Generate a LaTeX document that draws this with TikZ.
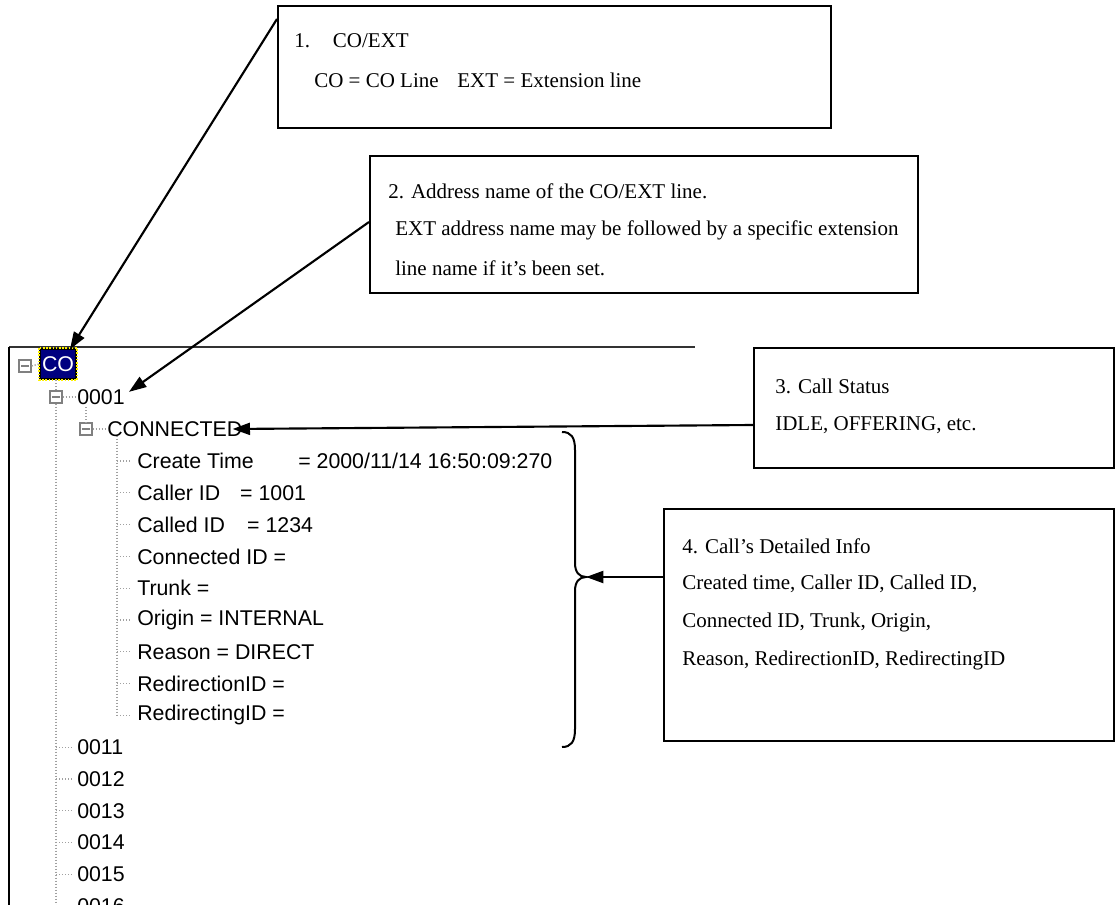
\documentclass[tikz,border=0pt]{standalone}
\usepackage{fontspec}
\setmainfont{Liberation Serif}
\newfontfamily\treefont{Liberation Sans}
\usetikzlibrary{arrows.meta}
\definecolor{navyblue}{HTML}{000080}
\definecolor{treegray}{HTML}{A0A0A0}
\definecolor{expgray}{HTML}{808080}
\begin{document}
\begin{tikzpicture}[x=0.75pt,y=-0.75pt,
  callout/.style={draw=black, line width=1.5pt, inner sep=0, anchor=north west},
  btext/.style={anchor=west, inner sep=0, font=\fontsize{15.75pt}{18pt}\selectfont},
  ttext/.style={anchor=west, inner sep=0, font=\treefont\fontsize{16pt}{18pt}\selectfont},
  arr/.style={line width=1.6pt, -{Triangle[length=13pt,width=9pt]}},
  tline/.style={draw=treegray, line width=1pt, dash pattern=on 1pt off 1.25pt},
  expander/.style={draw=expgray, line width=1pt, minimum size=9pt, inner sep=0, fill=white,
    path picture={\draw[expgray, line width=1pt] ([xshift=1.8pt]path picture bounding box.west) -- ([xshift=-1.8pt]path picture bounding box.east);}},
]
\useasboundingbox (0,0) rectangle (1116,905);
\begin{scope}
\clip (0,0) rectangle (1116,905);

% ---------- callout boxes ----------
\node[callout, minimum width=414.75pt, minimum height=91.5pt] (b1) at (277,5) {};
\node[btext] (b1t1) at (294,41) {\makebox[29pt][l]{1.}CO/EXT};
\node[btext] (b1t2) at (314,80) {CO = CO Line\hspace{14pt}EXT = Extension line};

\node[callout, minimum width=411pt, minimum height=102.75pt] (b2) at (369,155) {};
\node[btext] (b2t1) at (388,191) {2. Address name of the CO/EXT line.};
\node[btext] (b2t2) at (395,230) {EXT address name may be followed by a specific extension};
\node[btext] (b2t3) at (395,268) {line name if it’s been set.};

\node[callout, minimum width=270pt, minimum height=90pt] (b3) at (753,347) {};
\node[btext] (b3t1) at (775,386) {3. Call Status};
\node[btext] (b3t2) at (775,425) {IDLE, OFFERING, etc.};

\node[callout, minimum width=337.5pt, minimum height=174pt] (b4) at (663,508) {};
\node[btext] (b4t1) at (682,546) {4. Call’s Detailed Info};
\node[btext] (b4t2) at (682,584) {Created time, Caller ID, Called ID,};
\node[btext] (b4t3) at (682,622) {Connected ID, Trunk, Origin,};
\node[btext] (b4t4) at (682,660) {Reason, RedirectionID, RedirectingID};

% ---------- tree panel ----------
\coordinate (ptl) at (9,347);
\coordinate (ptr) at (695,347);
\coordinate (pbl) at (9,905);
\draw[black!80, line width=1.5pt] (ptl) -- (ptr);
\draw[black, line width=2pt] (ptl) -- (pbl);

\node[expander] (r) at (25,366) {};
\node[fill=navyblue, draw=black, line width=1.5pt, minimum width=27pt, minimum height=22.5pt, inner sep=0,
  text=white, font=\treefont\fontsize{16pt}{18pt}\selectfont] (co) at (58,364) {CO};
\draw[yellow, line width=1.5pt, dash pattern=on 1.2pt off 1.2pt] (co.north west) rectangle (co.south east);
\draw[tline] (r.east) -- (co.west);

% level 1
\node[expander] (e1) at (56,397) {};
\node[ttext] (n0001) at (77,397) {0001};
\draw[tline] (e1.east) -- (n0001.west);
\draw[tline] (co.south -| e1) -- (e1.north);
\coordinate (l1end) at (56,905);
\draw[tline] (e1.south) -- (l1end);

% CONNECTED
\node[expander] (e2) at (86,429) {};
\node[ttext] (conn) at (107,429) {CONNECTED};
\coordinate (e2top) at (86,407);
\draw[tline] (e2top) -- (e2.north);
\draw[tline] (e2.east) -- (conn.west);

% children
\node[ttext] (c1) at (137,461) {\makebox[120.75pt][l]{Create Time}= 2000/11/14 16:50:09:270};
\node[ttext] (c2) at (137,492.8) {\makebox[77.25pt][l]{Caller ID}= 1001};
\node[ttext] (c3) at (137,524.6) {\makebox[82.5pt][l]{Called ID}= 1234};
\node[ttext] (c4) at (137,556.4) {Connected ID =};
\node[ttext] (c5) at (137,588.2) {Trunk =};
\node[ttext] (c6) at (137,620) {Origin = INTERNAL};
\node[ttext] (c7) at (137,651.8) {Reason = DIRECT};
\node[ttext] (c8) at (137,683.6) {RedirectionID =};
\node[ttext] (c9) at (137,715.4) {RedirectingID =};
\draw[tline] (e2.south -| 117,0) -- (117,715.4);
\foreach \c in {c1,c2,c3,c4,c5,c6,c7,c8,c9}{
  \draw[tline] (\c.west -| 117,0) -- ([xshift=-4pt]\c.west);
}

% remaining level-1 items
\foreach \n/\y in {0011/747.2,0012/779,0013/810.8,0014/842.6,0015/874.4,0016/906.2}{
  \node[ttext] (n\n) at (77,\y) {\n};
  \draw[tline] (56,\y) -- ([xshift=-3pt]n\n.west);
}

% ---------- brace ----------
\coordinate (bt) at (586,577);
\draw[line width=1.5pt] (562,432) .. controls (571,432) and (575,437) .. (575,450)
  -- (575,563) .. controls (575,572) and (579,577) .. (bt)
  .. controls (579,577) and (575,582) .. (575,591)
  -- (575,729) .. controls (575,742) and (571,747) .. (562,747);

% ---------- arrows ----------
\coordinate (a1s) at (277,19);
\coordinate (a2s) at (369,222);
\draw[arr] (a1s) -- ([xshift=9pt,yshift=-1pt]co.north);
\draw[arr] (a2s) -- ([xshift=3pt,yshift=-2pt]n0001.north east);
\draw[arr] (b3.west |- b3t2) -- ([xshift=-7.5pt]conn.east);
\draw[arr] (b4.west |- bt) -- (bt);
\end{scope}
\end{tikzpicture}
\end{document}
